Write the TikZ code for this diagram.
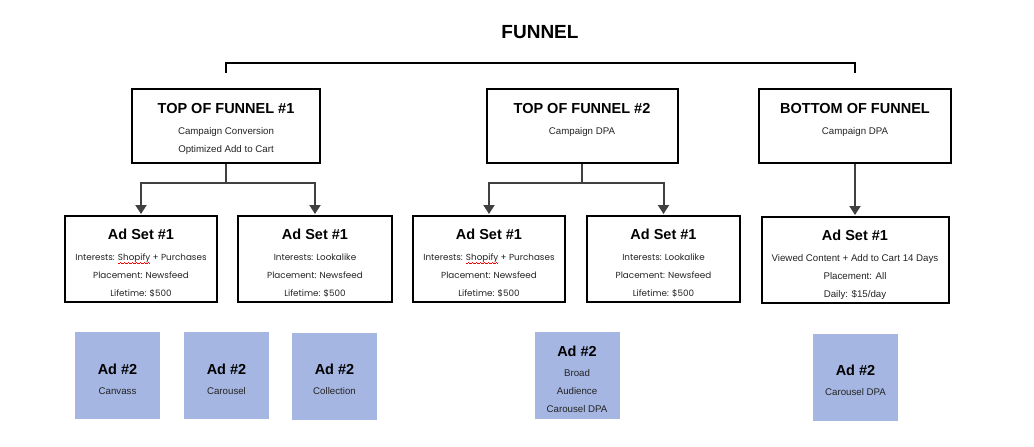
\documentclass[tikz,border=0pt]{standalone}
\usepackage{fontspec}
\setmainfont{Liberation Sans}
\newfontfamily\gothic{Poppins}
\usetikzlibrary{arrows.meta}

\definecolor{adblue}{RGB}{165,182,226}
\definecolor{linkgray}{RGB}{64,64,64}
\definecolor{subgray}{RGB}{35,35,35}

% red spell-check squiggle under a word
\newsavebox\squigbox
\newcommand\squigwave{\hbox{{\color{red}\rule[-3.6pt]{1pt}{0.7pt}\rule[-3pt]{1pt}{0.7pt}\rule[-2.4pt]{1pt}{0.7pt}\rule[-3pt]{1pt}{0.7pt}}}}
\newcommand\squiggle[1]{\sbox\squigbox{#1}\rlap{\hbox to \wd\squigbox{\leaders\squigwave\hfill}}\usebox\squigbox}
\newcommand\headline[1]{{\rmfamily\fontsize{14.5}{18}\selectfont\bfseries\color{black}#1}}

\begin{document}
\begin{tikzpicture}[x=1pt, y=-1pt,
    stagebox/.style={draw, line width=2pt, inner sep=0pt},
    inbox/.style={anchor=north, align=center, inner sep=0pt, text=subgray,
      font=\fontsize{9.7}{18}\selectfont},
    gothicbox/.style={inbox, font=\gothic\fontsize{8.8}{18}\selectfont},
    adcard/.style={fill=adblue, minimum width=85pt, minimum height=87pt, inner sep=0pt},
    adtext/.style={inbox, anchor=center},
    link/.style={draw=linkgray, line width=2pt, shorten >=1pt,
      -{Triangle[length=9pt,width=11pt]}},
    bracket/.style={line width=2pt}]
  \useasboundingbox (0,0) rectangle (1034,447);

  \node[font=\fontsize{19}{19}\selectfont\bfseries] (funnel) at (540,32) {FUNNEL};

  % campaigns
  \node[stagebox, minimum width=188pt, minimum height=74pt] (tof1) at (226,126) {};
  \node[inbox] (tof1t) at ([yshift=-15pt]tof1.north)
    {\headline{TOP OF FUNNEL \#1}\\[3pt]Campaign Conversion\\Optimized Add to Cart};
  \node[stagebox, minimum width=191pt, minimum height=74pt] (tof2) at (582,126) {};
  \node[inbox] (tof2t) at ([yshift=-15pt]tof2.north)
    {\headline{TOP OF FUNNEL \#2}\\[3pt]Campaign DPA};
  \node[stagebox, minimum width=192pt, minimum height=74pt] (bof) at (855,126) {};
  \node[inbox] (boft) at ([yshift=-15pt]bof.north)
    {\headline{BOTTOM OF FUNNEL}\\[3pt]Campaign DPA};

  \draw[bracket] ([yshift=15pt]tof1.north) -- ++(0,-10) -| ([yshift=15pt]bof.north);

  % ad sets
  \node[stagebox, minimum width=152pt, minimum height=86pt] (as1) at (141,259) {};
  \node[gothicbox] (as1t) at ([yshift=-14pt]as1.north)
    {\headline{Ad Set \#1}\\[2.5pt]Interests: \squiggle{Shopify} + Purchases\\Placement: Newsfeed\\Lifetime: \$500};
  \node[stagebox, minimum width=154pt, minimum height=86pt] (as2) at (315,259) {};
  \node[gothicbox] (as2t) at ([yshift=-14pt]as2.north)
    {\headline{Ad Set \#1}\\[2.5pt]Interests: Lookalike\\Placement: Newsfeed\\Lifetime: \$500};
  \node[stagebox, minimum width=152pt, minimum height=86pt] (as3) at (489,259) {};
  \node[gothicbox] (as3t) at ([yshift=-14pt]as3.north)
    {\headline{Ad Set \#1}\\[2.5pt]Interests: \squiggle{Shopify} + Purchases\\Placement: Newsfeed\\Lifetime: \$500};
  \node[stagebox, minimum width=153pt, minimum height=86pt] (as4) at (663.5,259) {};
  \node[gothicbox] (as4t) at ([yshift=-14pt]as4.north)
    {\headline{Ad Set \#1}\\[2.5pt]Interests: Lookalike\\Placement: Newsfeed\\Lifetime: \$500};
  \node[stagebox, minimum width=187pt, minimum height=86pt] (as5) at (855,260) {};
  \node[inbox] (as5t) at ([yshift=-14pt]as5.north)
    {\headline{Ad Set \#1}\\[2.5pt]Viewed Content + Add to Cart 14 Days\\Placement: All\\Daily: \$15/day};

  \draw[link] (tof1.south) -- ++(0,19) -| (as1.north);
  \draw[link] (tof1.south) -- ++(0,19) -| (as2.north);
  \draw[link] (tof2.south) -- ++(0,19) -| (as3.north);
  \draw[link] (tof2.south) -- ++(0,19) -| (as4.north);
  \draw[link] (bof.south) -- (as5.north);

  % ads
  \node[adcard] (ad1) at (117.5,375.5) {};
  \node[adtext] (ad1t) at ([yshift=-3.5pt]ad1.center) {\headline{Ad \#2}\\[2pt]Canvass};
  \node[adcard] (ad2) at (226.5,375.5) {};
  \node[adtext] (ad2t) at ([yshift=-3.5pt]ad2.center) {\headline{Ad \#2}\\[2pt]Carousel};
  \node[adcard] (ad3) at (334.5,376) {};
  \node[adtext] (ad3t) at ([yshift=-3.5pt]ad3.center) {\headline{Ad \#2}\\[2pt]Collection};
  \node[adcard] (ad4) at (577,375.5) {};
  \node[adtext] (ad4t) at ([yshift=-3.5pt]ad4.center) {\headline{Ad \#2}\\[2pt]Broad\\Audience\\Carousel DPA};
  \node[adcard] (ad5) at (855.5,377) {};
  \node[adtext] (ad5t) at ([yshift=-3.5pt]ad5.center) {\headline{Ad \#2}\\[2pt]Carousel DPA};
\end{tikzpicture}
\end{document}
